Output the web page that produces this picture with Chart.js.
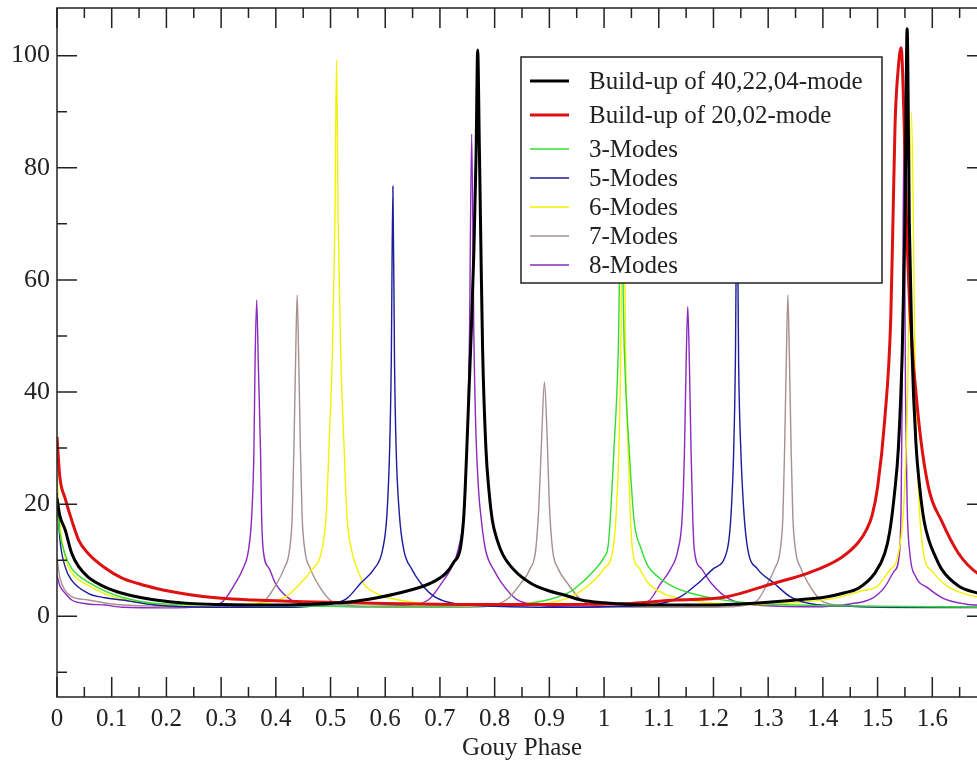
<!DOCTYPE html>
<html>
<head>
<meta charset="utf-8">
<script src="https://cdn.jsdelivr.net/npm/chart.js@4/dist/chart.umd.min.js"></script>
<style>
  html, body { margin: 0; padding: 0; background: #fff; overflow: hidden; }
  #wrap { width: 1000px; height: 762px; position: relative; }
</style>
</head>
<body>
<div id="wrap"><canvas id="gouyChart"></canvas></div>
<script>
// values, [gouy phase, build-up]
const build40 = [[0,21],[0.005,18],[0.015,15.4],[0.027,11.2],[0.04,8.8],[0.057,7.0],[0.088,5.2],[0.119,4.1],[0.15,3.4],[0.18,2.9],[0.24,2.3],[0.3,2.1],[0.4,2.0],[0.45,2.1],[0.53,2.5],[0.59,3.4],[0.64,4.5],[0.683,5.9],[0.71,7.6],[0.725,9.6],[0.738,12.5],[0.744,18.5],[0.749,29.6],[0.756,47.5],[0.762,65],[0.766,82],[0.769,101],[0.772,84],[0.775,65],[0.778,47.5],[0.784,30],[0.79,22],[0.796,17],[0.805,13.5],[0.815,11],[0.836,8.2],[0.866,5.9],[0.9,4.5],[0.927,3.8],[0.958,2.9],[1.0,2.4],[1.05,2.1],[1.1,2.0],[1.2,2.0],[1.25,2.2],[1.3,2.5],[1.35,2.9],[1.403,3.4],[1.44,4.2],[1.465,5],[1.495,7.7],[1.513,11.2],[1.522,15],[1.531,22],[1.538,30],[1.545,47],[1.55,70],[1.554,104.8],[1.558,70],[1.563,47],[1.57,31],[1.577,23],[1.585,17],[1.594,13.5],[1.604,11],[1.617,8.4],[1.648,5.4],[1.685,4.1],[1.7,3.8]]

const build20 = [[0,32],[0.005,25],[0.015,21],[0.027,17.1],[0.04,13.5],[0.057,11.2],[0.088,8.6],[0.119,6.8],[0.15,5.8],[0.18,5.0],[0.24,3.9],[0.3,3.2],[0.36,2.9],[0.45,2.6],[0.6,2.3],[0.8,2.1],[0.95,2.1],[1.05,2.3],[1.13,2.9],[1.22,3.4],[1.31,5.9],[1.373,7.7],[1.434,10.5],[1.465,13.2],[1.48,15.5],[1.49,18],[1.5,23],[1.513,35],[1.524,52.9],[1.528,70],[1.532,88],[1.538,98],[1.543,101.4],[1.548,90],[1.553,70],[1.56,52.9],[1.575,35],[1.593,23],[1.617,17],[1.648,11.2],[1.685,7.5],[1.7,7.0]]

const modes3 = [[0,20],[0.005,15],[0.015,11],[0.027,8.5],[0.04,7.2],[0.057,6.1],[0.088,4.5],[0.119,3.4],[0.18,2.3],[0.3,2.0],[0.5,1.8],[0.7,1.8],[0.8,2.0],[0.85,2.2],[0.9,3.0],[0.94,4.5],[0.958,5.9],[0.98,8],[1.0,10.5],[1.008,13],[1.018,29.6],[1.026,47.5],[1.031,75],[1.037,47.5],[1.046,29.6],[1.055,17],[1.068,12],[1.08,9],[1.099,7],[1.128,5.2],[1.159,4.1],[1.2,3.2],[1.25,2.5],[1.3,2.2],[1.4,1.9],[1.5,1.8],[1.6,1.7],[1.7,1.6]]

const modes5 = [[0,22],[0.005,14],[0.015,8.8],[0.027,6.4],[0.057,4.1],[0.088,3.3],[0.119,2.9],[0.18,2.0],[0.3,1.6],[0.4,1.6],[0.5,2.2],[0.53,3.2],[0.555,5.9],[0.58,8.5],[0.595,11.8],[0.603,18],[0.608,29.6],[0.611,45],[0.614,76.7],[0.617,45],[0.62,29.6],[0.626,18],[0.634,11.8],[0.648,8.5],[0.665,5.9],[0.69,3.5],[0.73,2.2],[0.8,1.8],[0.9,1.6],[1.0,1.7],[1.1,2.2],[1.14,3.5],[1.172,5.9],[1.2,8.5],[1.225,11.8],[1.232,18],[1.237,29.6],[1.24,45],[1.243,77],[1.246,45],[1.25,29.6],[1.256,18],[1.263,11.8],[1.28,8.5],[1.311,5.9],[1.34,3.5],[1.38,2.2],[1.45,1.8],[1.55,1.6],[1.7,1.6]]

const modes6 = [[0,25],[0.005,17],[0.015,10.5],[0.027,7.8],[0.057,5.5],[0.088,4.0],[0.119,3.1],[0.18,2.2],[0.3,2.0],[0.36,2.3],[0.4,2.8],[0.42,3.6],[0.445,5.9],[0.465,8.2],[0.484,11.8],[0.492,18],[0.497,29.6],[0.5035,47.5],[0.508,70],[0.511,99.3],[0.514,70],[0.5185,47.5],[0.525,29.6],[0.53,18],[0.5385,11.8],[0.55,8.2],[0.56,5.9],[0.585,4],[0.62,3.0],[0.68,2.2],[0.75,1.9],[0.85,2.0],[0.9,2.4],[0.94,3.5],[0.976,5.9],[1.0,8.5],[1.016,11.8],[1.022,18],[1.027,29.6],[1.031,50],[1.035,99],[1.039,50],[1.044,29.6],[1.048,18],[1.052,11.8],[1.065,8.5],[1.081,5.9],[1.11,4],[1.16,2.8],[1.22,2.2],[1.3,2.1],[1.36,2.5],[1.42,3.2],[1.47,4.5],[1.5,5.4],[1.52,8],[1.538,11.2],[1.548,20],[1.555,40],[1.562,90],[1.569,40],[1.576,20],[1.584,11.2],[1.6,8],[1.63,5.2],[1.66,4],[1.685,3.4],[1.7,3.2]]

const modes7 = [[0,10.4],[0.005,7],[0.015,4.6],[0.027,3.5],[0.057,2.9],[0.1,2.2],[0.18,1.8],[0.3,1.7],[0.36,2.0],[0.38,2.8],[0.402,5.9],[0.415,8.5],[0.425,11.8],[0.43,18],[0.433,29.6],[0.436,45],[0.439,57.3],[0.442,45],[0.445,29.6],[0.448,18],[0.453,11.8],[0.463,8.5],[0.476,5.9],[0.5,2.8],[0.53,2.0],[0.6,1.6],[0.75,1.6],[0.8,2.0],[0.825,3.2],[0.848,5.9],[0.865,8.5],[0.875,11.8],[0.881,20],[0.886,32],[0.891,41.8],[0.896,32],[0.9,20],[0.906,11.8],[0.916,8.5],[0.933,5.9],[0.955,3.2],[0.98,2.0],[1.05,1.6],[1.2,1.6],[1.26,2.0],[1.28,2.8],[1.299,5.9],[1.312,8.5],[1.322,11.8],[1.327,18],[1.33,29.6],[1.333,45],[1.336,57.3],[1.339,45],[1.342,29.6],[1.345,18],[1.35,11.8],[1.36,8.5],[1.373,5.9],[1.397,2.8],[1.43,2.0],[1.5,1.6],[1.7,1.5]]

const modes8 = [[0,7.3],[0.005,5.5],[0.015,4.1],[0.027,2.9],[0.057,2.2],[0.088,2.0],[0.12,1.6],[0.2,1.5],[0.27,1.8],[0.3,2.4],[0.326,5.9],[0.34,8.5],[0.35,11.8],[0.356,18],[0.36,29.6],[0.362,45],[0.365,56.4],[0.368,45],[0.372,29.6],[0.374,18],[0.377,11.8],[0.388,8.5],[0.399,5.9],[0.43,2.8],[0.47,2.0],[0.55,1.7],[0.64,2.0],[0.68,3.0],[0.703,5.9],[0.72,8.5],[0.733,11.8],[0.745,20],[0.75,32],[0.754,50],[0.758,86],[0.762,50],[0.766,32],[0.771,22],[0.775,17.7],[0.783,12],[0.8,8],[0.813,5.9],[0.84,3.0],[0.88,2.0],[0.95,1.6],[1.03,1.8],[1.08,2.6],[1.104,5.9],[1.122,8.5],[1.135,11.8],[1.143,18],[1.147,29.6],[1.15,45],[1.153,55.2],[1.156,45],[1.159,29.6],[1.162,18],[1.165,11.8],[1.178,8.5],[1.196,5.9],[1.23,3.0],[1.28,2.0],[1.38,1.7],[1.45,2.2],[1.49,3.2],[1.513,5.2],[1.53,8],[1.54,11.2],[1.543,20],[1.545,40],[1.548,85],[1.551,40],[1.554,20],[1.559,11.2],[1.57,7],[1.59,5.2],[1.62,3.2],[1.66,2.2],[1.7,1.9]]

const seriesNames = ['Build-up of 40,22,04-mode', 'Build-up of 20,02-mode', '3-Modes', '5-Modes', '6-Modes', '7-Modes', '8-Modes']
const seriesData = [build40, build20, modes3, modes5, modes6, modes7, modes8]
const seriesColors = ['#000000', '#dd1111', '#33dd33', '#1c1c9c', '#f2f200', '#a89090', '#8b28c0']
const seriesWidths = [3, 3, 1.4, 1.4, 1.4, 1.4, 1.4]

const xTicks = [0, 0.1, 0.2, 0.3, 0.4, 0.5, 0.6, 0.7, 0.8, 0.9, 1, 1.1, 1.2, 1.3, 1.4, 1.5, 1.6, 1.7]
const xTickLabels = ['0', '0.1', '0.2', '0.3', '0.4', '0.5', '0.6', '0.7', '0.8', '0.9', '1', '1.1', '1.2', '1.3', '1.4', '1.5', '1.6', '']
const yTicks = [0, 20, 40, 60, 80, 100]
const yTickLabels = ['0', '20', '40', '60', '80', '100']

const serif = 'Liberation Serif'
const ink = '#222'

// frame with inward ticks on all four sides (xmgrace look)
const framePlugin = {
    id: 'frame',
    afterDatasetsDraw(chart) {
        const { ctx, chartArea: a, scales } = chart
        ctx.save()
        ctx.strokeStyle = ink
        ctx.lineWidth = 1.5
        ctx.strokeRect(a.left, a.top, a.right - a.left, a.bottom - a.top)

        const drawTicks = (scale, values, len) => {
            values.forEach(v => {
                if (v < scale.min || v > scale.max) return
                const p = scale.getPixelForValue(v)
                ctx.beginPath()
                if (scale.isHorizontal()) {
                    ctx.moveTo(p, a.bottom); ctx.lineTo(p, a.bottom - len)
                    ctx.moveTo(p, a.top); ctx.lineTo(p, a.top + len)
                } else {
                    ctx.moveTo(a.left, p); ctx.lineTo(a.left + len, p)
                    ctx.moveTo(a.right, p); ctx.lineTo(a.right - len, p)
                }
                ctx.stroke()
            })
        }
        const halves = (vals, step) => {
            const out = []
            for (let i = -1; i < vals.length; i++) {
                const base = i < 0 ? vals[0] - step : vals[i]
                out.push(base + step / 2)
            }
            return out
        }
        drawTicks(scales.x, xTicks, 20)
        drawTicks(scales.x, halves(xTicks, 0.1), 10)
        drawTicks(scales.y, yTicks, 20)
        drawTicks(scales.y, halves(yTicks, 20), 10)
        ctx.restore()
    }
}

// legend box sitting inside the plot
const legendBoxPlugin = {
    id: 'legendBox',
    afterDraw(chart) {
        const { ctx } = chart
        const box = { left: 521, top: 57, right: 882, bottom: 283 }
        const rows = [81, 115, 149, 178, 207, 236, 265]
        ctx.save()
        ctx.fillStyle = '#fff'
        ctx.fillRect(box.left, box.top, box.right - box.left, box.bottom - box.top)
        ctx.strokeStyle = ink
        ctx.lineWidth = 1.5
        ctx.strokeRect(box.left, box.top, box.right - box.left, box.bottom - box.top)
        ctx.font = `25px "${serif}"`
        ctx.textBaseline = 'middle'
        chart.data.datasets.forEach((ds, i) => {
            const y = rows[i]
            ctx.strokeStyle = ds.borderColor
            ctx.lineWidth = ds.borderWidth
            ctx.beginPath()
            ctx.moveTo(530, y)
            ctx.lineTo(569, y)
            ctx.stroke()
            ctx.fillStyle = ink
            ctx.fillText(ds.label, 589, y + 1)
        })
        ctx.restore()
    }
}

const chart = new Chart(document.getElementById('gouyChart'), {
    type: 'line',
    data: {
        datasets: seriesNames.map((name, i) => ({
            label: name,
            data: seriesData[i].map(p => ({ x: p[0], y: p[1] })),
            borderColor: seriesColors[i],
            borderWidth: seriesWidths[i],
            pointRadius: 0,
            cubicInterpolationMode: 'monotone',
            fill: false
        }))
    },
    options: {
        responsive: true,
        maintainAspectRatio: false,
        animation: false,
        layout: { padding: { left: 0, right: 13, top: 8, bottom: 0 } },
        plugins: {
            legend: { display: false },
            tooltip: { enabled: false }
        },
        scales: {
            x: {
                type: 'linear',
                min: 0,
                max: 1.7,
                grid: { display: false, drawTicks: false, tickLength: 0 },
                border: { display: false },
                afterBuildTicks: s => { s.ticks = xTicks.map(v => ({ value: v })) },
                afterFit: s => { s.height = 65; s.paddingLeft = 0; s.paddingRight = 0 },
                ticks: {
                    padding: 7,
                    autoSkip: false,
                    maxRotation: 0,
                    color: ink,
                    font: { family: serif, size: 25 },
                    callback: (v, i) => xTickLabels[i]
                },
                title: {
                    display: true,
                    text: 'Gouy Phase',
                    color: ink,
                    padding: 0,
                    font: { family: serif, size: 25, lineHeight: 1.1 }
                }
            },
            y: {
                type: 'linear',
                min: -14.4,
                max: 108.5,
                grid: { display: false, drawTicks: false, tickLength: 0 },
                border: { display: false },
                afterBuildTicks: s => { s.ticks = yTicks.map(v => ({ value: v })) },
                afterFit: s => { s.width = 57; s.paddingTop = 0; s.paddingBottom = 0 },
                ticks: {
                    padding: 7,
                    color: ink,
                    font: { family: serif, size: 26 },
                    callback: (v, i) => yTickLabels[i]
                }
            }
        }
    },
    plugins: [framePlugin, legendBoxPlugin]
})
</script>
</body>
</html>
